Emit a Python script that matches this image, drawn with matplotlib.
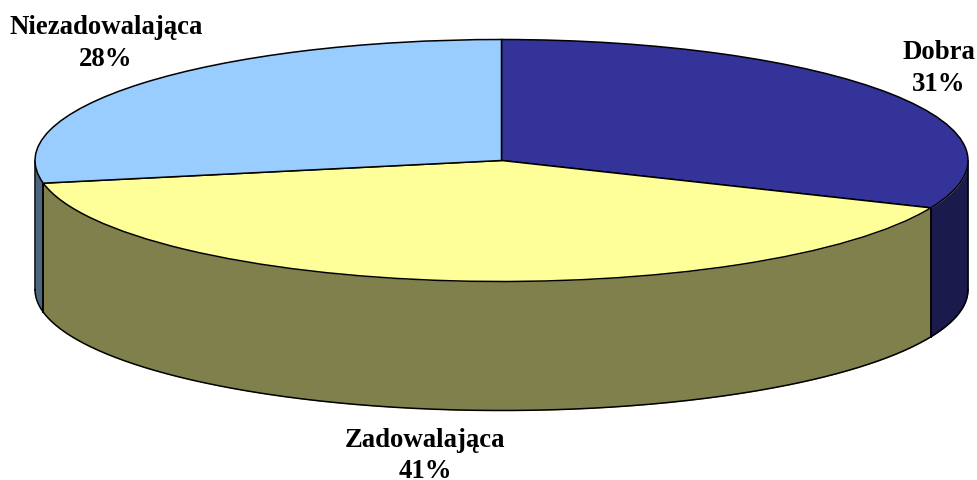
import numpy as np
from matplotlib import pyplot as plt

categories = ['Dobra', 'Zadowalająca', 'Niezadowalająca']
values = [31.4, 40.6, 28]
top_colors = ['#333399', '#FFFF99', '#99CCFF']
side_colors = ['#1A1A4D', '#80804D', '#4D6680']

W, H = 978, 481
cx, cy = 501.5, 161.5  # pie centre, px
rx, ry = 466.5, 121  # ellipse radii, px
depth = 129 / ry

plt.rcParams['font.family'] = ['Liberation Serif', 'DejaVu Serif']

fig = plt.figure(figsize=(W / 100, H / 100), dpi=100)
ax = fig.add_axes([0, 0, 1, 1])

# side wall: one band for the front part of each wedge (angles -180..0 face us)
lw = 1.1
start = 90.0
for v, c in zip(values, side_colors):
    stop = start - v * 3.6
    hi, lo = min(start, 0), max(stop, -180)
    if hi > lo:
        t = np.radians(np.linspace(hi, lo, 300))
        x = np.cos(t)
        y = np.sin(t)
        ax.fill_between(x, y, y - depth, color=c, linewidth=0, zorder=2)
        ax.plot(x, y - depth, color='k', lw=lw, zorder=3)
        ax.plot([x[0], x[0]], [y[0], y[0] - depth], color='k', lw=lw, zorder=3)
        ax.plot([x[-1], x[-1]], [y[-1], y[-1] - depth], color='k', lw=lw, zorder=3)
    start = stop

wedges, _ = ax.pie(values, colors=top_colors, startangle=90, counterclock=False,
                   wedgeprops=dict(edgecolor='k', linewidth=lw), normalize=True)
for w in wedges:
    w.set_zorder(4)

ax.set_aspect('auto')
ax.set_xlim(-cx / rx, (W - cx) / rx)
ax.set_ylim(-(H - cy) / ry, cy / ry)
ax.axis('off')

label_pos = [(939, 68.5), (425, 456), (106, 43.5)]
for name, v, (px, py) in zip(categories, values, label_pos):
    ax.text((px - cx) / rx, (cy - py) / ry, f'{name}\n{v:.0f}%', ha='center', va='center',
            fontsize=19.3, fontweight='bold', linespacing=1.33, zorder=5)

fig.savefig('out.png', dpi=100)
